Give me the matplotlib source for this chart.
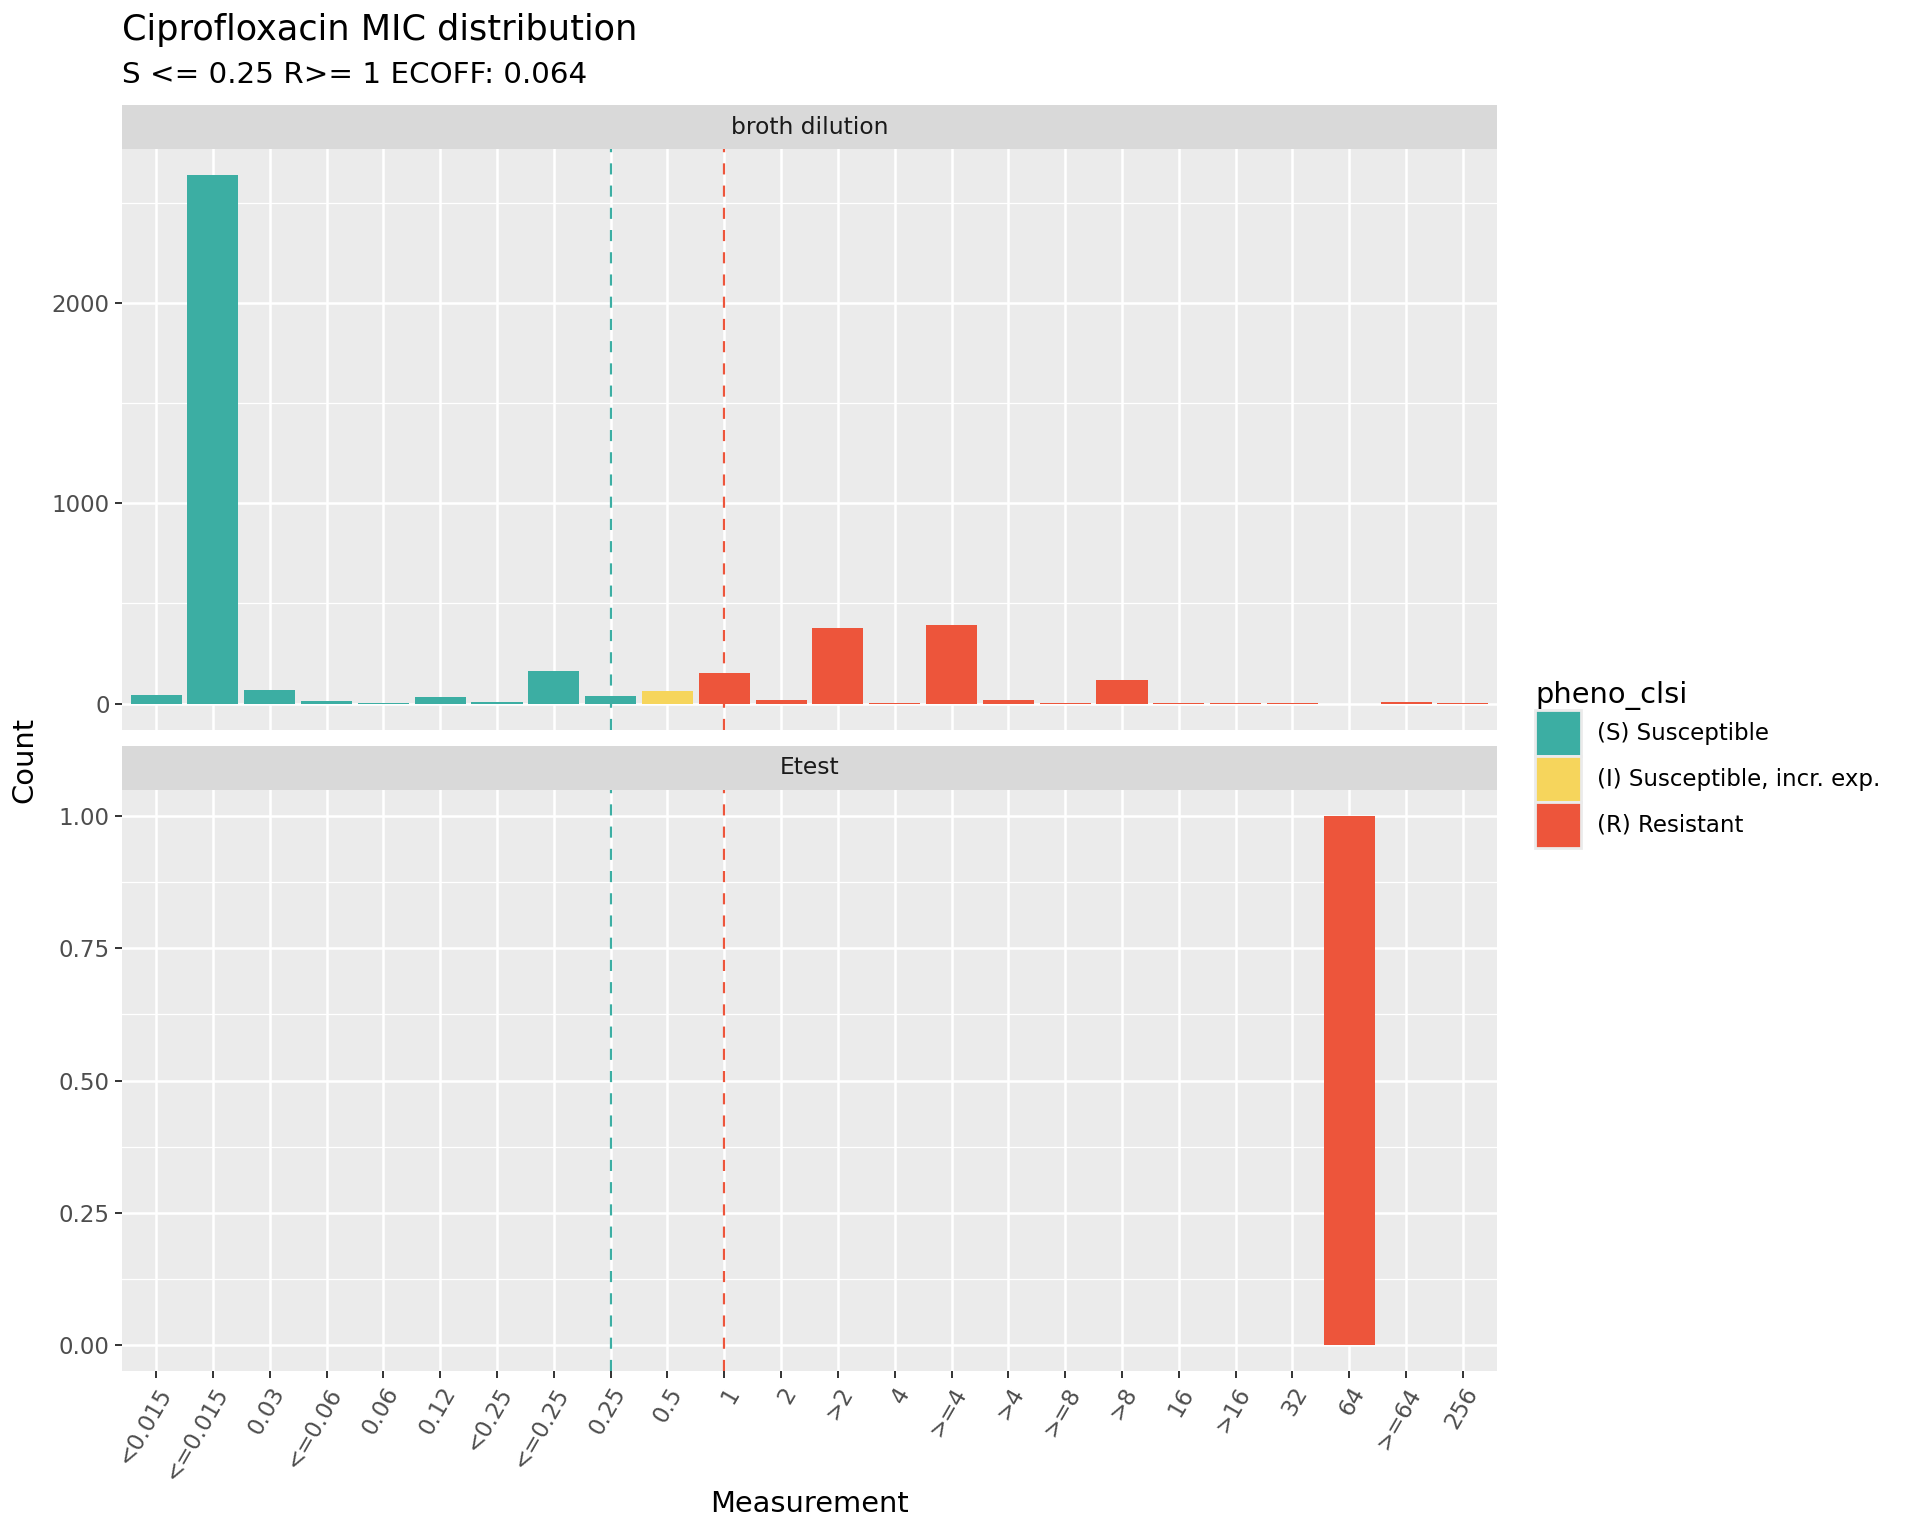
import matplotlib
matplotlib.use("Agg")
import matplotlib.pyplot as plt
from matplotlib.patches import Patch, Rectangle
import numpy as np

# MIC categories on the x axis (discrete)
categories = ["<0.015", "<=0.015", "0.03", "<=0.06", "0.06", "0.12", "<0.25",
              "<=0.25", "0.25", "0.5", "1", "2", ">2", "4", ">=4", ">4", ">=8",
              ">8", "16", ">16", "32", "64", ">=64", "256"]

# counts per facet
broth_counts = [43, 2637, 68, 13, 3, 33, 8, 163, 38, 63, 153, 18, 378, 3, 392,
                18, 3, 118, 3, 3, 3, 0, 10, 3]
etest_counts = [0, 0, 0, 0, 0, 0, 0, 0, 0, 0, 0, 0, 0, 0, 0, 0, 0, 0, 0, 0, 0,
                1, 0, 0]

# interpretation per category
pheno = ["S", "S", "S", "S", "S", "S", "S", "S", "S", "I", "R", "R", "R", "R",
         "R", "R", "R", "R", "R", "R", "R", "R", "R", "R"]

facets = ["broth dilution", "Etest"]
pheno_labels = {"S": "(S) Susceptible", "I": "(I) Susceptible, incr. exp.",
                "R": "(R) Resistant"}
pheno_colors = {"S": "#3CAEA3", "I": "#F6D55C", "R": "#ED553B"}

S_break = "0.25"
R_break = "1"

W, H = 1920, 1536
SMALL, BASE, TITLE = 16.5, 20.8, 25.3

fig = plt.figure(figsize=(W / 100, H / 100), dpi=100)

x = np.arange(len(categories))
colors = [pheno_colors[p] for p in pheno]

panel_left = 122 / W
panel_w = 1375 / W
panel_h = 581 / H
panels = [(730, broth_counts, [0, 1000, 2000], [500, 1500, 2500], "{:.0f}"),
          (1371, etest_counts, [0, 0.25, 0.5, 0.75, 1.0],
           [0.125, 0.375, 0.625, 0.875], "{:.2f}")]

for i, (bottom_px, counts, major, minor, fmt) in enumerate(panels):
    ax = fig.add_axes([panel_left, 1 - bottom_px / H, panel_w, panel_h])
    ax.set_facecolor("#EBEBEB")
    for s in ax.spines.values():
        s.set_visible(False)
    top = max(counts)
    ax.set_ylim(-0.05 * top, 1.05 * top)
    ax.set_xlim(-0.6, len(categories) - 0.4)
    ax.set_yticks(major)
    ax.set_yticks(minor, minor=True)
    ax.set_yticklabels([fmt.format(v) for v in major])
    ax.set_xticks(x)
    ax.grid(True, which="major", color="white", linewidth=1.8)
    ax.grid(True, which="minor", axis="y", color="white", linewidth=0.9)
    ax.set_axisbelow(True)
    ax.tick_params(axis="both", which="major", length=5.2, width=1.4,
                   color="#333333", labelcolor="#4D4D4D", labelsize=SMALL, pad=3.6)
    ax.tick_params(axis="y", which="minor", length=0)
    ax.bar(x, counts, width=0.9, color=colors, linewidth=0, zorder=2)
    ax.axvline(categories.index(S_break), color=pheno_colors["S"], lw=1.6,
               dashes=(5, 5), zorder=3)
    ax.axvline(categories.index(R_break), color=pheno_colors["R"], lw=1.6,
               dashes=(5, 5), zorder=3)
    if i == 0:
        ax.tick_params(axis="x", which="both", length=0, labelbottom=False)
    else:
        ax.set_xticklabels(categories, rotation=60, ha="right", va="top",
                           rotation_mode="anchor")
    # facet strip above the panel
    fig.add_artist(Rectangle((panel_left, 1 - (bottom_px - 581) / H), panel_w,
                             44 / H, transform=fig.transFigure,
                             facecolor="#D9D9D9", edgecolor="none"))
    fig.text(panel_left + panel_w / 2, 1 - (bottom_px - 581 - 22) / H, facets[i],
             ha="center", va="center", fontsize=16.8, color="#1A1A1A")

fig.text(122 / W, 1 - 40 / H, "Ciprofloxacin MIC distribution", fontsize=TITLE,
         va="baseline", ha="left", color="black")
fig.text(122 / W, 1 - 83 / H, "S <= 0.25 R>= 1 ECOFF: 0.064", fontsize=21.2,
         va="baseline", ha="left", color="black")
fig.text(809.5 / W, 1 - 1504 / H, "Measurement", fontsize=BASE, ha="center",
         va="center")
fig.text(24 / W, 1 - 760 / H, "Count", fontsize=BASE, ha="center", va="center",
         rotation=90)

handles = [Patch(facecolor=pheno_colors[k], edgecolor="#EBEBEB", linewidth=2,
                 label=pheno_labels[k]) for k in ["S", "I", "R"]]
leg = fig.legend(handles=handles, loc="upper left",
                 bbox_to_anchor=(1535 / W, 1 - 681 / H), frameon=False,
                 title="pheno_clsi", title_fontsize=BASE, fontsize=SMALL,
                 handlelength=2.0, handleheight=2.7, labelspacing=0,
                 handletextpad=0.7, borderpad=0, borderaxespad=0)
leg._legend_box.align = "left"

fig.savefig("out.png", dpi=100)
